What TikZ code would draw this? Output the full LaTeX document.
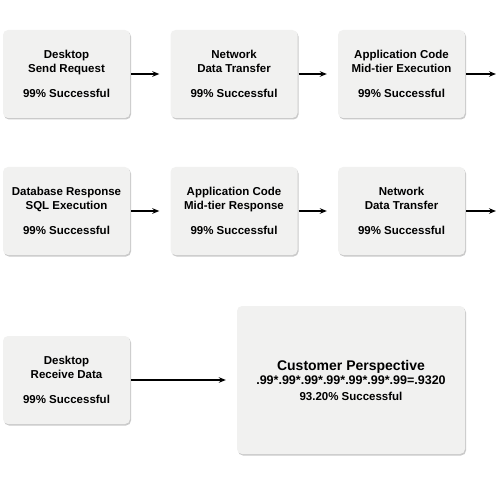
\documentclass[tikz,border=0pt]{standalone}
\usepackage{fontspec}
\setmainfont{Liberation Sans}
\usetikzlibrary{positioning,arrows.meta,shadows}
\definecolor{boxgray}{HTML}{F1F1F0}

\begin{document}
\begin{tikzpicture}[x=1pt,y=1pt,font=\bfseries\fontsize{11.5}{14}\selectfont,
  stage/.style={fill=boxgray,rounded corners=5pt,minimum width=127pt,minimum height=88pt,align=center,inner sep=0pt,
    drop shadow={shadow xshift=1pt,shadow yshift=-1.5pt,opacity=0.35,fill=black!60}},
  flow/.style={-{Stealth[length=7pt,width=5.5pt]},line width=1.4pt,shorten >=11pt,shorten <=1pt}]
\useasboundingbox (0,0) rectangle (498,480);
% first row
\node[stage] (send) at (66.5,406) {Desktop\\Send Request\\[11pt]99\% Successful};
\node[stage] (net1) at (234,406) {Network\\Data Transfer\\[11pt]99\% Successful};
\node[stage] (app1) at (401.5,406) {Application Code\\Mid-tier Execution\\[11pt]99\% Successful};
\coordinate (out1) at (496,406);
% second row
\node[stage] (sql) at (66.5,269) {Database Response\\SQL Execution\\[11pt]99\% Successful};
\node[stage] (app2) at (234,269) {Application Code\\Mid-tier Response\\[11pt]99\% Successful};
\node[stage] (net2) at (401.5,269) {Network\\Data Transfer\\[11pt]99\% Successful};
\coordinate (out2) at (496,269);
% last row
\node[stage] (recv) at (66.5,100) {Desktop\\Receive Data\\[11pt]99\% Successful};
\node[stage,minimum width=228pt,minimum height=148pt] (cust) at (351,100)
  {{\fontsize{14}{16}\selectfont Customer Perspective}\\{\fontsize{12.5}{16}\selectfont .99*.99*.99*.99*.99*.99*.99=.9320}\\[2pt]93.20\% Successful};
\draw[flow] (send.east) -- (net1.west);
\draw[flow] (net1.east) -- (app1.west);
\draw[flow,shorten >=0pt] (app1.east) -- (out1);
\draw[flow] (sql.east) -- (app2.west);
\draw[flow] (app2.east) -- (net2.west);
\draw[flow,shorten >=0pt] (net2.east) -- (out2);
\draw[flow] (recv.east) -- (cust.west);
\end{tikzpicture}
\end{document}
